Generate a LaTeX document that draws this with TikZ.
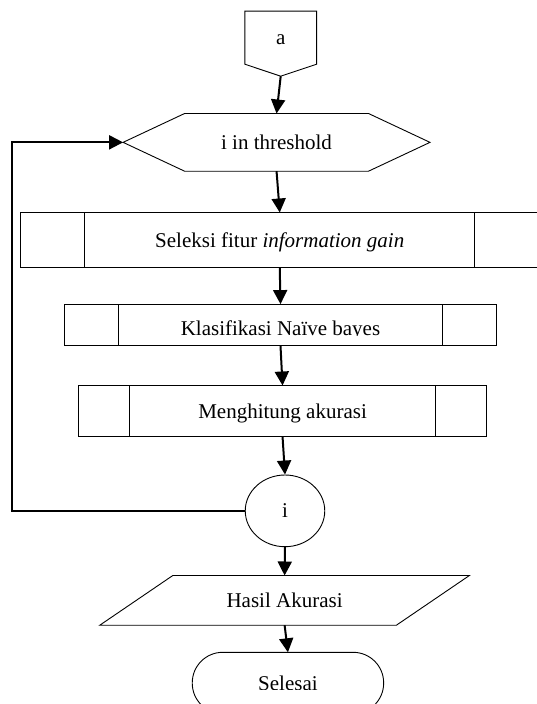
\documentclass[tikz,border=0pt]{standalone}
\usepackage{fontspec}
\setmainfont{Liberation Serif}
\usetikzlibrary{arrows.meta,shapes.geometric}
\begin{document}
\begin{tikzpicture}[x=1pt,y=-1pt,
  box/.style={inner sep=0pt, text height=14pt, text depth=0pt, font=\fontsize{21}{25}\selectfont},
  outl/.style={draw=black, line width=0.9pt},
  arr/.style={line width=2pt, -{Triangle[length=14pt,width=14pt]}}]
\useasboundingbox (0,0) rectangle (537,704);

% off-page connector a
\node[box, minimum width=71.4pt, minimum height=52.7pt] (a) at (280.7,37.65) {a};
\coordinate (atip) at ([yshift=-12pt]a.south);
\draw[outl] (a.north west) -- (a.north east) -- (a.south east) -- (atip) -- (a.south west) -- cycle;

% hexagon
\node[box, minimum width=306.5pt, minimum height=57.3pt] (hex) at (276.55,142.35) {i in threshold};
\draw[outl] (hex.west) -- ([xshift=61.5pt]hex.north west) -- ([xshift=-61.5pt]hex.north east) -- (hex.east)
  -- ([xshift=-61.5pt]hex.south east) -- ([xshift=61.5pt]hex.south west) -- cycle;

% predefined process: Seleksi
\node[box, minimum width=518.5pt, minimum height=55pt] (sel) at (279.75,240.2) {Seleksi fitur \textit{information gain}};
\draw[outl] (sel.north west) rectangle (sel.south east);
\draw[outl] ([xshift=64.5pt]sel.north west) -- ([xshift=64.5pt]sel.south west);
\draw[outl] ([xshift=-64.5pt]sel.north east) -- ([xshift=-64.5pt]sel.south east);

% predefined process: Klasifikasi
\begin{scope}
\clip (0,0) rectangle (537,335.5);
\node[box, text height=20pt, minimum width=432.2pt, minimum height=41.4pt] (kla) at (280.5,325) {Klasifikasi Naïve bayes};
\end{scope}
\draw[outl] (kla.north west) rectangle (kla.south east);
\draw[outl] ([xshift=54pt]kla.north west) -- ([xshift=54pt]kla.south west);
\draw[outl] ([xshift=-54pt]kla.north east) -- ([xshift=-54pt]kla.south east);

% predefined process: Menghitung
\node[box, minimum width=407.5pt, minimum height=51pt] (meng) at (282.55,411.2) {Menghitung akurasi};
\draw[outl] (meng.north west) rectangle (meng.south east);
\draw[outl] ([xshift=51pt]meng.north west) -- ([xshift=51pt]meng.south west);
\draw[outl] ([xshift=-51pt]meng.north east) -- ([xshift=-51pt]meng.south east);

% connector i
\node[box, outl, ellipse, minimum width=79.5pt, minimum height=71.7pt] (ci) at (285,510.85) {i};

% parallelogram
\node[box, minimum width=369.2pt, minimum height=49.3pt] (par) at (284.6,600.35) {Hasil Akurasi};
\draw[outl] ([xshift=73pt]par.north west) -- (par.north east) -- ([xshift=-73pt]par.south east) -- (par.south west) -- cycle;

% terminator
\begin{scope}
\clip (0,0) rectangle (537,689.5);
\node[box, minimum width=191pt, minimum height=61pt] (term) at (287.95,683) {Selesai};
\end{scope}
\draw[outl, rounded corners=30.5pt] (term.north west) rectangle (term.south east);

% connectors
\draw[arr] (atip) -- (hex.north);
\draw[arr] (hex.south) -- (sel.north);
\draw[arr] (sel.south) -- (kla.north);
\draw[arr] (kla.south) -- (meng.north);
\draw[arr] (meng.south) -- (ci.north);
\draw[arr] (ci.south) -- (par.north);
\draw[arr] (par.south) -- (term.north);
\coordinate (lx) at (12,0);
\draw[arr] (ci.west) -- (ci.west -| lx) |- (hex.west);
\end{tikzpicture}
\end{document}
